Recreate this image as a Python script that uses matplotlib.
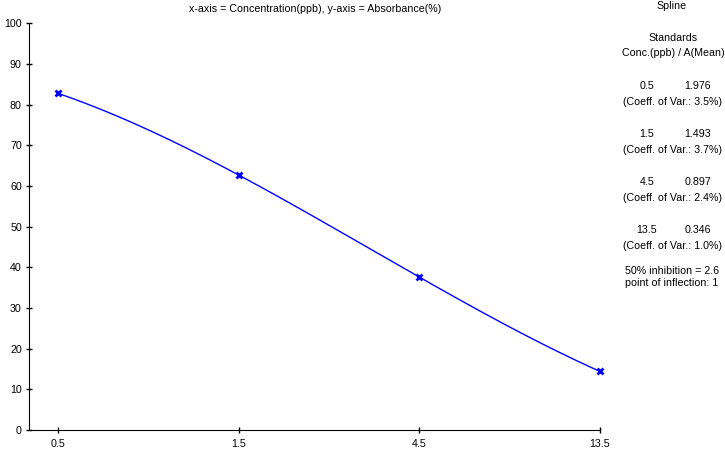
import numpy as np
import matplotlib
matplotlib.use('Agg')
import matplotlib.pyplot as plt

plt.rcParams['font.family'] = ['Liberation Sans', 'DejaVu Sans']

# 标准品数据
conc = [0.5, 1.5, 4.5, 13.5]
absorb = [82.8, 62.7, 37.6, 14.4]
a_mean = ['1.976', '1.493', '0.897', '0.346']
coeff_var = ['3.5%', '3.7%', '2.4%', '1.0%']
x_labels = ['0.5', '1.5', '4.5', '13.5']
y_ticks = [0, 10, 20, 30, 40, 50, 60, 70, 80, 90, 100]

W, H = 725, 450
FS = 7.7
fig = plt.figure(figsize=(W / 100, H / 100), dpi=100)
ax = fig.add_axes([29.5 / W, 1 - 430 / H, (600 - 29.5) / W, (430 - 23.5) / H])

# 对数坐标下的三次样条（过四个点）
lx = np.log10(conc)
coef = np.polyfit(lx, absorb, 3)
xs = np.linspace(lx[0], lx[-1], 300)
ax.plot(10 ** xs, np.polyval(coef, xs), color='#0000ff', lw=1, clip_on=False)
ax.plot(conc, absorb, ls='none', marker='x', color='#0000ff', ms=4, mew=2, clip_on=False)

ax.set_xscale('log')
ax.set_xlim(0.4197, 13.5)
ax.set_ylim(0, 100)
ax.set_xticks(conc)
ax.set_xticklabels(x_labels)
ax.minorticks_off()
ax.set_yticks(y_ticks)
for s in ['top', 'right']:
    ax.spines[s].set_visible(False)
ax.tick_params(direction='inout', length=5, width=1, labelsize=FS, pad=4)
ax.tick_params(axis='y', pad=3)
ax.set_title('x-axis = Concentration(ppb), y-axis = Absorbance(%)', fontsize=FS, pad=0, y=1 + 11 / (430 - 23.5))


def ptext(x, y, s, ha='center'):
    fig.text(x / W, 1 - y / H, s, ha=ha, va='center', fontsize=FS)


ptext(672, 6, 'Spline')
ptext(673, 38, 'Standards')
ptext(673, 53, 'Conc.(ppb) / A(Mean)')
ys = [86, 134, 182, 230]
for c, a, cv, y in zip(x_labels, a_mean, coeff_var, ys):
    ptext(647, y, c)
    ptext(698, y, a)
    ptext(672.5, y + 16, f'(Coeff. of Var.: {cv})')
ptext(625, 271, '50% inhibition = 2.6', ha='left')
ptext(625, 283, 'point of inflection: 1', ha='left')

fig.savefig('out.png', dpi=100)
